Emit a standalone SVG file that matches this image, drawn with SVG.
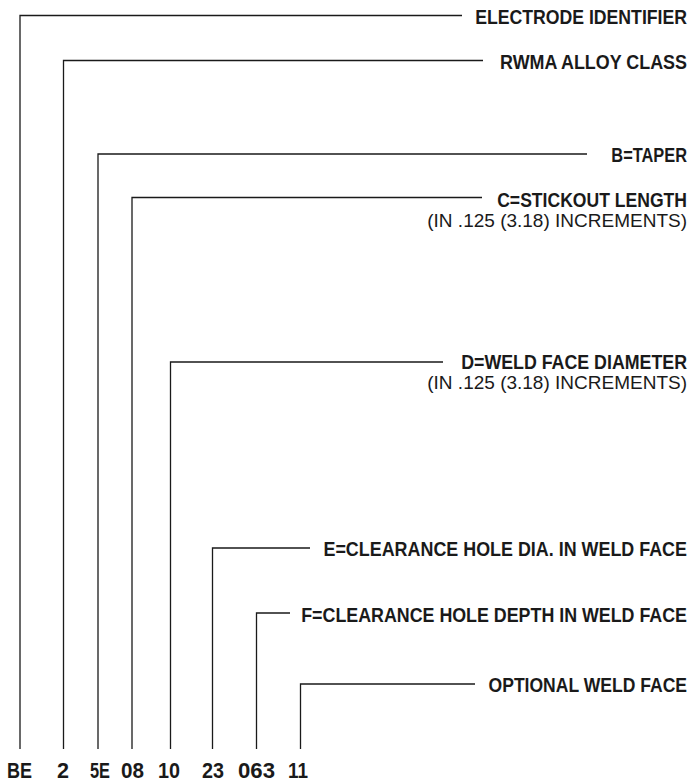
<svg xmlns="http://www.w3.org/2000/svg" width="692" height="783" viewBox="0 0 692 783">
<style>
.c{fill:none;stroke:#1a1a1a;stroke-width:1.3}
.b{font-family:"Liberation Sans",Arial,sans-serif;font-weight:bold;font-size:20px;fill:#1a1a1a;text-anchor:end}
.r{font-family:"Liberation Sans",Arial,sans-serif;font-size:19px;fill:#1a1a1a;text-anchor:end}
.n{font-family:"Liberation Sans",Arial,sans-serif;font-weight:bold;font-size:22px;fill:#1a1a1a}
</style>
<rect width="692" height="783" fill="#fff"/>
<g id="connectors">
<polyline class="c" points="20,749 20,15.5 462,15.5"/>
<polyline class="c" points="63.5,749 63.5,60.5 483,60.5"/>
<polyline class="c" points="98,749 98,154 587,154"/>
<polyline class="c" points="132,749 132,197.5 482,197.5"/>
<polyline class="c" points="170.5,749 170.5,362 443,362"/>
<polyline class="c" points="212.5,749 212.5,548 310,548"/>
<polyline class="c" points="256.5,749 256.5,613 290,613"/>
<polyline class="c" points="300.5,749 300.5,684 475,684"/>
</g>
<g id="n-electrode"><text class="b" transform="translate(687,24) scale(0.883,1)">ELECTRODE IDENTIFIER</text></g>
<g id="n-rwma"><text class="b" transform="translate(687,69) scale(0.896,1)">RWMA ALLOY CLASS</text></g>
<g id="n-taper"><text class="b" transform="translate(687,162) scale(0.82,1)">B=TAPER</text></g>
<g id="n-stickout"><text class="b" transform="translate(687,207) scale(0.879,1)">C=STICKOUT LENGTH</text>
<text class="r" x="687" y="227">(IN .125 (3.18) INCREMENTS)</text></g>
<g id="n-diameter"><text class="b" transform="translate(687,369) scale(0.89,1)">D=WELD FACE DIAMETER</text>
<text class="r" x="687" y="389">(IN .125 (3.18) INCREMENTS)</text></g>
<g id="n-holedia"><text class="b" transform="translate(687,556) scale(0.896,1)">E=CLEARANCE HOLE DIA. IN WELD FACE</text></g>
<g id="n-holedepth"><text class="b" transform="translate(687,622) scale(0.892,1)">F=CLEARANCE HOLE DEPTH IN WELD FACE</text></g>
<g id="n-optional"><text class="b" transform="translate(687,692) scale(0.878,1)">OPTIONAL WELD FACE</text></g>
<g id="code">
<text class="n" x="7" y="778" textLength="25" lengthAdjust="spacingAndGlyphs">BE</text>
<text class="n" x="57" y="778" textLength="12" lengthAdjust="spacingAndGlyphs">2</text>
<text class="n" x="90" y="778" textLength="20" lengthAdjust="spacingAndGlyphs">5E</text>
<text class="n" x="121" y="778" textLength="23" lengthAdjust="spacingAndGlyphs">08</text>
<text class="n" x="158" y="778" textLength="22" lengthAdjust="spacingAndGlyphs">10</text>
<text class="n" x="202" y="778" textLength="22" lengthAdjust="spacingAndGlyphs">23</text>
<text class="n" x="238" y="778" textLength="37" lengthAdjust="spacingAndGlyphs">063</text>
<text class="n" x="288" y="778" textLength="20" lengthAdjust="spacingAndGlyphs">11</text>
</g>
</svg>
